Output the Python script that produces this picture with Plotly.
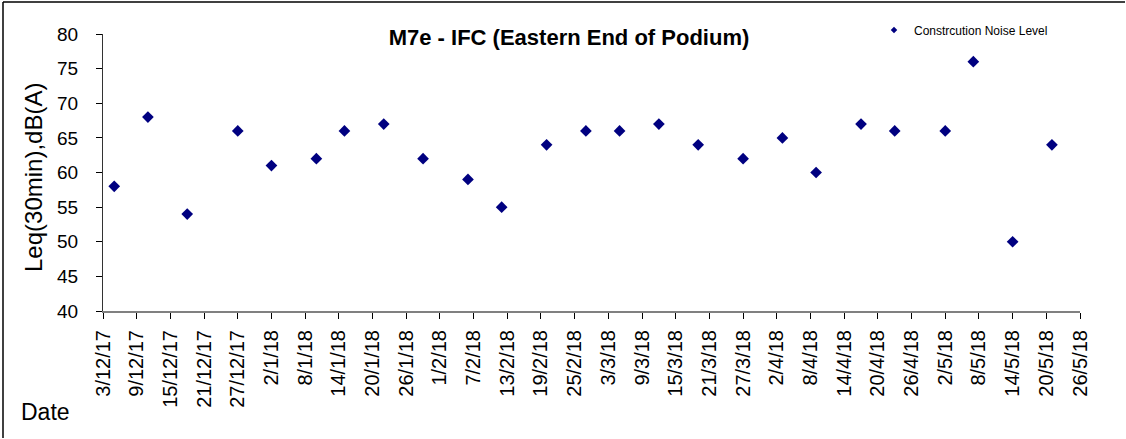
import plotly.graph_objects as go

# ---- data ----
dates = ["2017-12-05", "2017-12-11", "2017-12-18", "2017-12-27", "2018-01-02",
         "2018-01-10", "2018-01-15", "2018-01-22", "2018-01-29", "2018-02-06",
         "2018-02-12", "2018-02-20", "2018-02-27", "2018-03-05", "2018-03-12",
         "2018-03-19", "2018-03-27", "2018-04-03", "2018-04-09", "2018-04-17",
         "2018-04-23", "2018-05-02", "2018-05-07", "2018-05-14", "2018-05-21"]
leq = [58, 68, 54, 66, 61, 62, 66, 67, 62, 59, 55, 64, 66, 66, 67,
       64, 62, 65, 60, 67, 66, 66, 76, 50, 64]

tick_dates = ["2017-12-03", "2017-12-09", "2017-12-15", "2017-12-21", "2017-12-27",
              "2018-01-02", "2018-01-08", "2018-01-14", "2018-01-20", "2018-01-26",
              "2018-02-01", "2018-02-07", "2018-02-13", "2018-02-19", "2018-02-25",
              "2018-03-03", "2018-03-09", "2018-03-15", "2018-03-21", "2018-03-27",
              "2018-04-02", "2018-04-08", "2018-04-14", "2018-04-20", "2018-04-26",
              "2018-05-02", "2018-05-08", "2018-05-14", "2018-05-20", "2018-05-26"]
tick_labels = ["3/12/17", "9/12/17", "15/12/17", "21/12/17", "27/12/17",
               "2/1/18", "8/1/18", "14/1/18", "20/1/18", "26/1/18",
               "1/2/18", "7/2/18", "13/2/18", "19/2/18", "25/2/18",
               "3/3/18", "9/3/18", "15/3/18", "21/3/18", "27/3/18",
               "2/4/18", "8/4/18", "14/4/18", "20/4/18", "26/4/18",
               "2/5/18", "8/5/18", "14/5/18", "20/5/18", "26/5/18"]
x_range = ["2017-12-03", "2018-05-26"]
y_range = [40, 80]
y_ticks = [40, 45, 50, 55, 60, 65, 70, 75, 80]

FONT = "Arial, Liberation Sans, sans-serif"
NAVY = "#000080"

fig = go.Figure()
fig.add_trace(go.Scatter(x=dates, y=leq, mode="markers",
                         marker=dict(symbol="diamond", size=9, color=NAVY),
                         showlegend=False, hoverinfo="x+y"))
# legend entry with small marker
fig.add_trace(go.Scatter(x=[None], y=[None], mode="markers",
                         name="Constrcution Noise Level",
                         marker=dict(symbol="diamond", size=5, color=NAVY),
                         showlegend=True))

L, R, T, B = 103, 46, 34, 128
W, H = 1126, 439
pw, ph = W - L - R, H - T - B

def px_x(p):
    return (p - L) / pw

def px_y(p):
    return (H - B - p) / ph

fig.update_layout(
    width=W, height=H,
    margin=dict(l=L, r=R, t=T, b=B, pad=0),
    paper_bgcolor="white", plot_bgcolor="white",
    font=dict(family=FONT, color="black"),
    title=dict(text="<b>M7e - IFC (Eastern End of Podium)</b>",
               font=dict(size=22, family=FONT, color="black"),
               x=569 / W, xanchor="center", y=1 - 37 / H, yanchor="middle"),
    legend=dict(x=px_x(874), y=px_y(30), xanchor="left", yanchor="middle",
                font=dict(size=12, family=FONT), bgcolor="rgba(0,0,0,0)",
                itemwidth=30, tracegroupgap=0),
    xaxis=dict(type="date", range=x_range, tickmode="array",
               tickvals=tick_dates, ticktext=tick_labels, tickangle=-90,
               ticks="outside", ticklen=6, tickcolor="black", tickwidth=1,
               showline=True, linecolor="#808080", linewidth=2,
               showgrid=False, zeroline=False,
               tickfont=dict(size=20, family=FONT), ticklabelstandoff=3),
    xaxis2=dict(type="date", range=x_range, overlaying="x", anchor="y",
                side="bottom", tickmode="array", tickvals=tick_dates,
                ticks="inside", ticklen=6, tickcolor="black", tickwidth=1,
                showticklabels=False, showgrid=False, zeroline=False,
                showline=False),
    yaxis=dict(range=y_range, tickmode="array", tickvals=y_ticks,
               ticks="outside", ticklen=6, tickcolor="black",
               showline=True, linecolor="#333333", linewidth=1,
               showgrid=False, zeroline=False,
               tickfont=dict(size=19, family=FONT), ticklabelstandoff=14),
    annotations=[
        dict(text="Date", xref="paper", yref="paper",
             x=px_x(19), y=px_y(412), xanchor="left", yanchor="middle",
             showarrow=False, font=dict(size=23, family=FONT)),
        dict(text="Leq(30min),dB(A)", xref="paper", yref="paper",
             x=px_x(33), y=px_y(178), xanchor="center", yanchor="middle",
             textangle=-90, showarrow=False, font=dict(size=24, family=FONT)),
    ],
    shapes=[
        dict(type="line", xref="paper", yref="paper", layer="above",
             x0=px_x(3), x1=px_x(W - 1), y0=px_y(2), y1=px_y(2),
             line=dict(color="black", width=1.5)),
        dict(type="line", xref="paper", yref="paper", layer="above",
             x0=px_x(3), x1=px_x(3), y0=px_y(2), y1=px_y(H - 1),
             line=dict(color="black", width=1.5)),
    ],
)

fig.write_html("out.html", config={"displayModeBar": False},
               post_script="document.body.style.margin='0';")
